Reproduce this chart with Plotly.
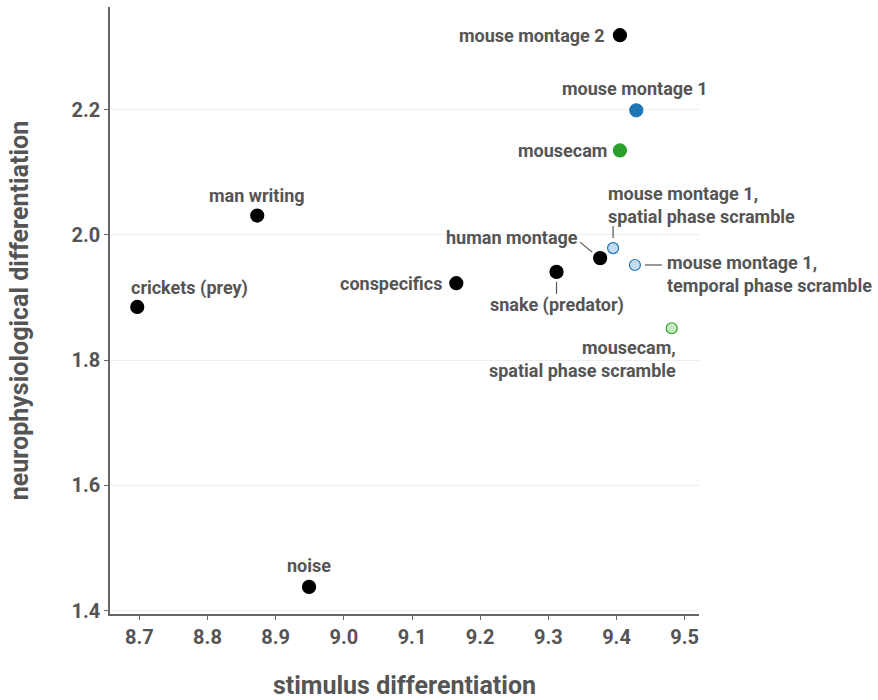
import plotly.graph_objects as go

# Stimulus set: name, stimulus differentiation (x), neurophysiological differentiation (y)
stimuli = [
    "crickets (prey)", "man writing", "noise", "conspecifics", "snake (predator)",
    "human montage", "mouse montage 2", "mouse montage 1", "mousecam",
    "mouse montage 1,<br>spatial phase scramble",
    "mouse montage 1,<br>temporal phase scramble",
    "mousecam,<br>spatial phase scramble",
]
stim_diff = [8.697, 8.873, 8.949, 9.165, 9.312, 9.376, 9.405, 9.429, 9.405, 9.395, 9.427, 9.481]
neuro_diff = [1.885, 2.031, 1.438, 1.923, 1.941, 1.963, 2.319, 2.199, 2.135, 1.979, 1.952, 1.851]

# Marker styling per stimulus group
fill_colors = ["#000000"] * 7 + ["#1f77b4", "#2ca02c", "#c6dbef", "#c6dbef", "#c7e9c0"]
edge_colors = ["#000000"] * 7 + ["#1f77b4", "#2ca02c", "#1f77b4", "#1f77b4", "#2ca02c"]
marker_sizes = [13] * 9 + [11, 11, 11]

# Label placement: (xanchor, align, xshift px, yshift px)
label_place = [
    ("left", "left", -8, 19),
    ("center", "center", 0, 20),
    ("center", "center", 0, 21),
    ("right", "right", -12, 0),
    ("center", "center", 0, -33),
    ("right", "right", -20, 21),
    ("right", "right", -13, 0),
    ("center", "center", -1, 22),
    ("right", "right", -11, 0),
    ("left", "left", -7, 43),
    ("left", "left", 30, -9),
    ("right", "right", 6, -31),
]

# Leader lines: index of stimulus, pixel offsets (x0, y0, x1, y1) from its marker
leaders = [
    (9, 0, 10, 0, 22),
    (5, -20, 16, -8, 6),
    (10, 10, 0, 27, 0),
    (4, 0, -10, 0, -22),
]

text_col = "#555555"
font_family = "Roboto, 'Open Sans', sans-serif"

fig = go.Figure()
fig.add_trace(go.Scatter(
    x=stim_diff, y=neuro_diff, mode="markers",
    marker=dict(size=marker_sizes, color=fill_colors, opacity=1,
                line=dict(color=edge_colors, width=1.2)),
    hoverinfo="skip", showlegend=False,
))

annotations = []
for name, xv, yv, (xa, al, dx, dy) in zip(stimuli, stim_diff, neuro_diff, label_place):
    annotations.append(dict(
        x=xv, y=yv, xref="x", yref="y", text=name, showarrow=False,
        xanchor=xa, yanchor="middle", align=al, xshift=dx, yshift=dy,
        font=dict(family=font_family, size=18, color=text_col, weight="bold"),
    ))

shapes = []
for idx, x0, y0, x1, y1 in leaders:
    shapes.append(dict(
        type="line", xref="x", yref="y",
        xsizemode="pixel", ysizemode="pixel",
        xanchor=stim_diff[idx], yanchor=neuro_diff[idx],
        x0=x0, y0=y0, x1=x1, y1=y1,
        line=dict(color="#555555", width=1.2),
    ))

axis_font = dict(family=font_family, size=20, color=text_col, weight="bold")
title_font = dict(family=font_family, size=25, color=text_col, weight="bold")

fig.update_layout(
    width=878, height=700,
    margin=dict(l=110, r=179, t=7, b=86),
    paper_bgcolor="white", plot_bgcolor="white",
    annotations=annotations, shapes=shapes,
    xaxis=dict(
        range=[8.657, 9.521], tickvals=[8.7, 8.8, 8.9, 9.0, 9.1, 9.2, 9.3, 9.4, 9.5],
        ticktext=["8.7", "8.8", "8.9", "9.0", "9.1", "9.2", "9.3", "9.4", "9.5"],
        showgrid=False, zeroline=False, showline=True, linecolor="#666666", linewidth=1.5,
        ticks="outside", ticklen=4, tickcolor="#666666", tickfont=axis_font,
        automargin=False,
        title=dict(text="stimulus differentiation", font=title_font, standoff=34),
    ),
    yaxis=dict(
        range=[1.3947, 2.364], tickvals=[1.4, 1.6, 1.8, 2.0, 2.2],
        ticktext=["1.4", "1.6", "1.8", "2.0", "2.2"],
        showgrid=True, gridcolor="#eeeeee", gridwidth=1, zeroline=False,
        showline=True, linecolor="#666666", linewidth=1.5,
        ticks="outside", ticklen=4, tickcolor="#666666", tickfont=axis_font,
        automargin=False,
        title=dict(text="neurophysiological differentiation", font=title_font, standoff=36),
    ),
)

fig.write_html("out.html")
